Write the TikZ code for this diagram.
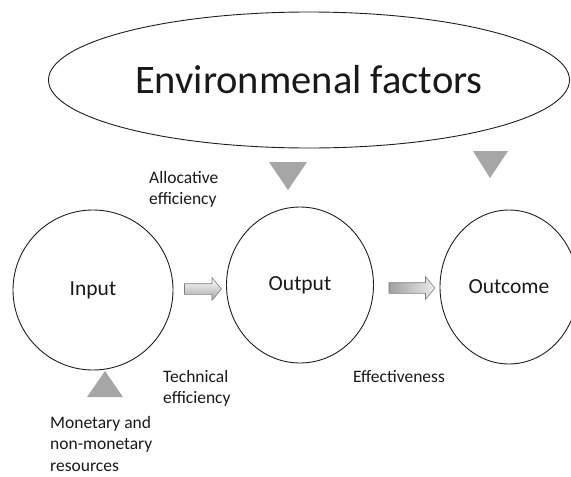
\documentclass[tikz,border=0pt]{standalone}
\usepackage{fontspec}
\setmainfont{Carlito}
\definecolor{lineDark}{RGB}{30, 30, 30}
\definecolor{markGrey}{RGB}{166, 166, 166}
\definecolor{arrowEdge}{RGB}{128, 128, 128}
\definecolor{darkText}{RGB}{25, 25, 25}
\usepackage{tikz}
\usetikzlibrary{shapes,arrows,positioning,calc,shapes.geometric,shapes.arrows,arrows.meta}

\tikzset{
  stage/.style={ellipse,draw=lineDark,line width=0.9pt,inner sep=0pt,
                font=\fontsize{21.5}{26}\selectfont,text=darkText},
  label/.style={anchor=base west,inner sep=0pt,align=left,
                font=\fontsize{17.5}{21.5}\selectfont,text=darkText},
  marker/.style={fill=markGrey},
  blockarrow/.style={single arrow,draw=arrowEdge,line width=0.6pt,inner sep=0pt,
                inner ysep=5pt,single arrow head extend=6pt,single arrow tip angle=100},
}

\begin{document}
\begin{tikzpicture}[x=1pt,y=-1pt]
        \useasboundingbox (0,0) rectangle (571,477);

        \node[ellipse,draw=lineDark,line width=0.9pt,minimum width=521pt,minimum height=136pt,
              font=\fontsize{40.5}{46}\selectfont,text=darkText] (env) at (309,80) {Environmenal factors};

        \node[stage,minimum width=160pt,minimum height=160pt] (input) at (93,290) {Input};
        \node[stage,minimum width=147pt,minimum height=156pt] (output) at (300,285) {Output};
        \node[stage,minimum width=138pt,minimum height=154pt] (outcome) at (509,287) {Outcome};

        \node[blockarrow,minimum height=37pt,top color=white,bottom color=markGrey]
             (a1) at ($(input.east)!0.5!(output.west)+(1,1.5)$) {};
        \node[blockarrow,minimum height=46pt,left color=gray!75,right color=gray!15]
             (a2) at ($(output.east)!0.5!(outcome.west)+(3,2)$) {};

        % grey pointers
        \fill[marker] (269,162) -- (307,162) -- (288,190) -- cycle;
        \fill[marker] (473,151) -- (508,151) -- (490,178) -- cycle;
        \fill[marker] (87,397) -- (123,397) -- (105,371) -- cycle;

        % base is the last line here
        \node[label] (alloc) at (149,204.5) {Allocative\\efficiency};
        \node[label] (tech) at (163,403.5) {Technical\\efficiency};
        \node[label] (effect) at (353,382) {Effectiveness};
        \node[label] (res) at (50,471) {Monetary and\\non-monetary\\resources};
    \end{tikzpicture}
\end{document}
